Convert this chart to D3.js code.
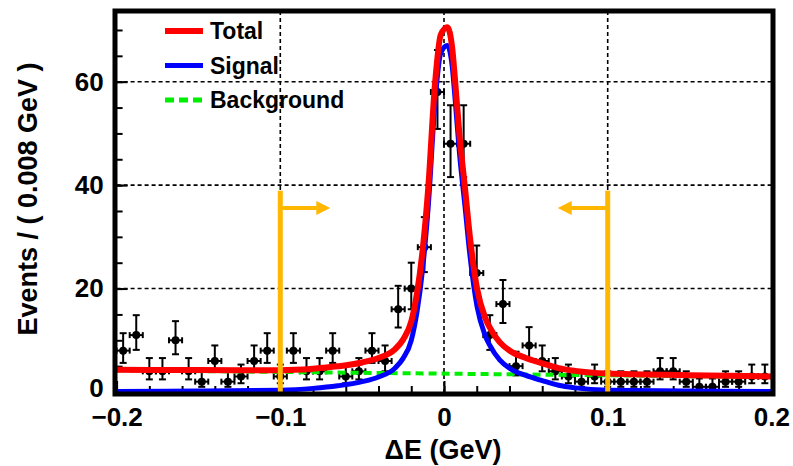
<!DOCTYPE html>
<html lang="en">
<head>
<meta charset="UTF-8">
<title>Delta E fit</title>
<script src="https://cdn.jsdelivr.net/npm/d3@7/dist/d3.min.js"></script>
<style>
  body{margin:0;background:#fff;}
  svg text{font-family:"Liberation Sans",Arial,Helvetica,sans-serif;font-weight:bold;fill:#000;}
</style>
</head>
<body>
<svg width="793" height="466"></svg>
<script>
// ---- data ----
var binLow = -0.2, binWidth = 0.008;
var counts = [8, 11, 4, 4, 10, 4, 2, 6, 2, 3,
              6, 8, 3, 8, 4, 4, 8, 3, 4, 8,
              6, 16, 20, 28, 58, 48, 48, 23, 11, 17,
              5, 9, 6, 4, 3, 2, 3, 2, 2, 2,
              2, 4, 4, 2, 1, 1, 2, 2, 3, 3];

// signal pdf (blue), sampled along x
var sigX = [-0.2, -0.15, -0.1, -0.08, -0.065, -0.05, -0.04, -0.03, -0.025, -0.02,
            -0.0165, -0.013, -0.0096, -0.0055, -0.002, 0.002, 0.005, 0.0067, 0.0095, 0.0128,
            0.016, 0.0202, 0.025, 0.028, 0.034, 0.04, 0.05, 0.06, 0.07, 0.08, 0.1, 0.15, 0.2];
var sigY = [0.1, 0.2, 0.35, 0.7, 1.2, 2.0, 2.9, 4.6, 6.5, 10,
            15.5, 24, 36, 56, 65.5, 67, 63, 57, 46, 36,
            26, 16.5, 11, 9, 6.2, 4.6, 3.2, 2.2, 1.3, 0.8, 0.35, 0.2, 0.1];
// background (green), linear
var bkgX = [-0.2, 0.2];
var bkgY = [4.2, 2.9];

var cuts = [-0.1, 0.1];
var xTicks = [-0.2, -0.1, 0, 0.1, 0.2];
var yTicks = [0, 20, 40, 60];
var legendLabels = ["Total", "Signal", "Background"];

// ---- setup ----
var svg = d3.select("svg");
var x = d3.scaleLinear().domain([-0.2, 0.2]).range([116.6, 771.4]);
var y = d3.scaleLinear().domain([0, 73.67]).range([392, 11]);

var bkgAt = d3.scaleLinear().domain(bkgX).range(bkgY);

svg.append("defs").append("clipPath").attr("id", "clip")
  .append("rect").attr("x", 116.6).attr("y", 11).attr("width", 654.8).attr("height", 386);

// grid
var grid = svg.append("g").attr("stroke", "#000").attr("stroke-width", 1.6).attr("stroke-dasharray", "4,3");
grid.selectAll(".gx").data(xTicks.slice(1, -1)).enter().append("line")
  .attr("x1", function(d){ return x(d); }).attr("x2", function(d){ return x(d); })
  .attr("y1", y.range()[1]).attr("y2", y.range()[0]);
grid.selectAll(".gy").data(yTicks.slice(1)).enter().append("line")
  .attr("x1", x.range()[0]).attr("x2", x.range()[1])
  .attr("y1", function(d){ return y(d); }).attr("y2", function(d){ return y(d); });

// axes (ticks inward)
var fmtX = function(d){ return d === 0 ? "0" : d3.format(".1f")(d); };
svg.append("g").attr("transform", "translate(0,392)")
  .call(d3.axisBottom(x).tickValues(xTicks).tickSize(-11).tickPadding(16).tickFormat(fmtX));
svg.append("g").attr("transform", "translate(0,392)")
  .call(d3.axisBottom(x).tickValues(d3.range(-0.18, 0.2, 0.02)).tickSize(-6).tickFormat(""));
var yAx = svg.append("g").attr("transform", "translate(116.6,0)")
  .call(d3.axisLeft(y).tickValues(yTicks).tickSize(-11).tickPadding(13));
svg.append("g").attr("transform", "translate(116.6,0)")
  .call(d3.axisLeft(y).tickValues(d3.range(5, 73, 5)).tickSize(-6).tickFormat(""));
svg.selectAll(".domain").remove();
svg.selectAll(".tick line").attr("stroke", "#000").attr("stroke-width", 2);
svg.selectAll(".tick text").style("font-size", "26px").attr("fill", "#000");
// lift the "0" label a little so it clears the x labels
yAx.selectAll(".tick text").filter(function(d){ return d === 0; }).attr("dy", "0.18em");

// data points with Poisson errors
var pts = counts.map(function(n, i){
  var r = Math.sqrt(n + 0.25);
  return {x: binLow + binWidth * (i + 0.5), n: n, lo: n - (r - 0.5), hi: n + (r + 0.5)};
});
var dg = svg.append("g").attr("stroke", "#000").attr("stroke-width", 2);
var p = dg.selectAll(".pt").data(pts).enter().append("g");
p.append("line").attr("x1", function(d){ return x(d.x); }).attr("x2", function(d){ return x(d.x); })
  .attr("y1", function(d){ return y(d.lo); }).attr("y2", function(d){ return y(d.hi); });
p.append("line").attr("x1", function(d){ return x(d.x - binWidth / 2); }).attr("x2", function(d){ return x(d.x + binWidth / 2); })
  .attr("y1", function(d){ return y(d.n); }).attr("y2", function(d){ return y(d.n); });
["lo", "hi"].forEach(function(k){
  p.append("line").attr("x1", function(d){ return x(d.x) - 3.5; }).attr("x2", function(d){ return x(d.x) + 3.5; })
    .attr("y1", function(d){ return y(d[k]); }).attr("y2", function(d){ return y(d[k]); });
});
[-1, 1].forEach(function(s){
  p.append("line").attr("x1", function(d){ return x(d.x + s * binWidth / 2); }).attr("x2", function(d){ return x(d.x + s * binWidth / 2); })
    .attr("y1", function(d){ return y(d.n) - 3; }).attr("y2", function(d){ return y(d.n) + 3; });
});
p.append("circle").attr("cx", function(d){ return x(d.x); }).attr("cy", function(d){ return y(d.n); })
  .attr("r", 4).attr("fill", "#000").attr("stroke", "none");

// curves
var line = d3.line().x(function(d){ return x(d[0]); }).y(function(d){ return y(d[1]); }).curve(d3.curveMonotoneX);
var curves = svg.append("g").attr("clip-path", "url(#clip)").attr("fill", "none");
curves.append("path").attr("d", line(bkgX.map(function(v, i){ return [v, bkgY[i]]; })))
  .attr("stroke", "#00ee00").attr("stroke-width", 4).attr("stroke-dasharray", "8,5");
curves.append("path").attr("d", line(sigX.map(function(v, i){ return [v, sigY[i]]; })))
  .attr("stroke", "#0000ff").attr("stroke-width", 5);
curves.append("path").attr("d", line(sigX.map(function(v, i){ return [v, sigY[i] + bkgAt(v)]; })))
  .attr("stroke", "#ff0000").attr("stroke-width", 6);

// cut arrows
var orange = "#ffb700";
cuts.forEach(function(c){
  var dir = c < 0 ? 1 : -1;
  var cx = x(c), ay = y(35.6);
  svg.append("line").attr("x1", cx).attr("x2", cx).attr("y1", y(0)).attr("y2", y(38.9))
    .attr("stroke", orange).attr("stroke-width", 5);
  svg.append("line").attr("x1", cx).attr("x2", cx + dir * 38).attr("y1", ay).attr("y2", ay)
    .attr("stroke", orange).attr("stroke-width", 4);
  svg.append("path").attr("d", "M" + (cx + dir * 50) + "," + ay + "L" + (cx + dir * 36) + "," + (ay - 7) + "L" + (cx + dir * 36) + "," + (ay + 7) + "Z")
    .attr("fill", orange);
});

// legend
var legStyles = [{c: "#ff0000", dash: null, w: 6}, {c: "#0000ff", dash: null, w: 5}, {c: "#00ee00", dash: "9,5", w: 5}];
var leg = svg.append("g").selectAll("g").data(legendLabels).enter().append("g")
  .attr("transform", function(d, i){ return "translate(165," + (31 + i * 34.5) + ")"; });
leg.append("line").attr("x1", 0).attr("x2", 38).attr("y1", 0).attr("y2", 0)
  .attr("stroke", function(d, i){ return legStyles[i].c; })
  .attr("stroke-width", function(d, i){ return legStyles[i].w; })
  .attr("stroke-dasharray", function(d, i){ return legStyles[i].dash; });
leg.append("text").attr("x", 45).attr("y", 8).style("font-size", "23px").text(function(d){ return d; });

// frame
svg.append("rect").attr("x", 115).attr("y", 11).attr("width", 658).attr("height", 383)
  .attr("fill", "none").attr("stroke", "#000").attr("stroke-width", 5);

// axis titles
svg.append("text").attr("x", 443).attr("y", 459).attr("text-anchor", "middle")
  .style("font-size", "27px").text("ΔE (GeV)");
svg.append("text").attr("transform", "translate(37,199) rotate(-90)").attr("text-anchor", "middle")
  .style("font-size", "27px").text("Events / ( 0.008 GeV )");
</script>
</body>
</html>
